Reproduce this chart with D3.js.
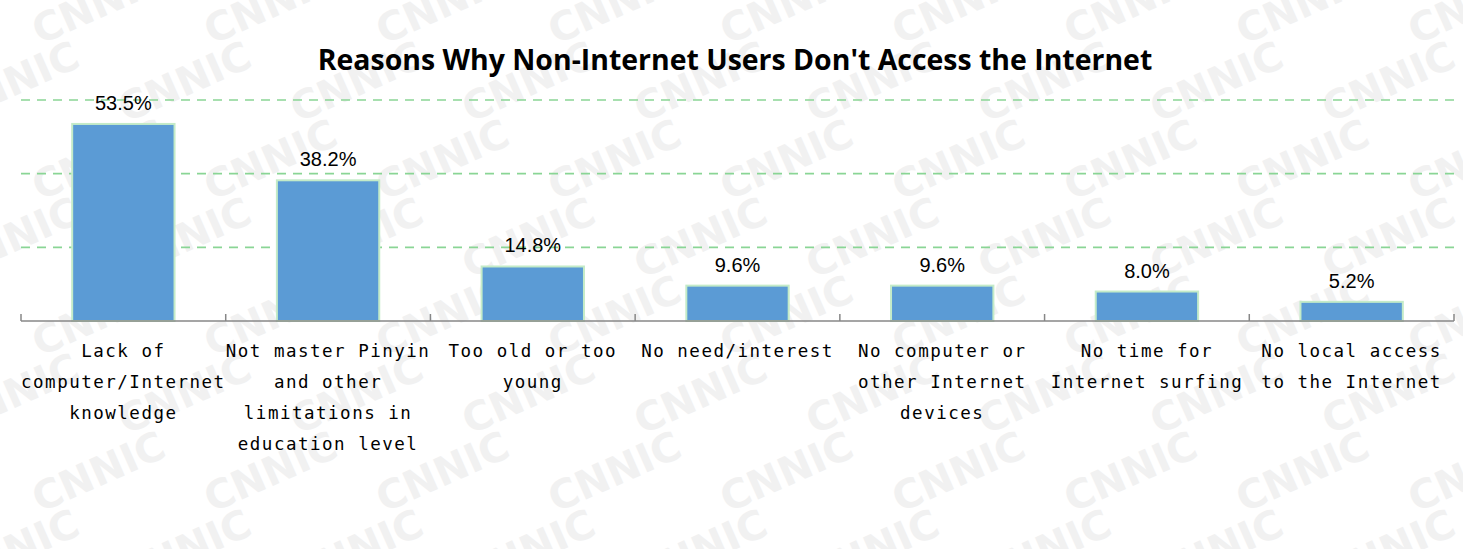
<!DOCTYPE html>
<html>
<head>
<meta charset="utf-8">
<script src="https://cdn.jsdelivr.net/npm/d3@7"></script>
<style>
  html, body { margin: 0; padding: 0; background: #ffffff; }
  svg { display: block; }
</style>
</head>
<body>
<svg id="chart" width="1463" height="549"></svg>
<script>
// Survey data: share of non-Internet users citing each reason (%)
const chartTitle = "Reasons Why Non-Internet Users Don't Access the Internet";
const categories = [
  "Lack of computer/Internet knowledge",
  "Not master Pinyin and other limitations in education level",
  "Too old or too young",
  "No need/interest",
  "No computer or other Internet devices",
  "No time for Internet surfing",
  "No local access to the Internet"
];
const categoryLines = [
  ["Lack of", "computer/Internet", "knowledge"],
  ["Not master Pinyin", "and other", "limitations in", "education level"],
  ["Too old or too", "young"],
  ["No need/interest"],
  ["No computer or", "other Internet", "devices"],
  ["No time for", "Internet surfing"],
  ["No local access", "to the Internet"]
];
const values = [53.5, 38.2, 14.8, 9.6, 9.6, 8.0, 5.2];
const gridTicks = [20, 40, 60];

const W = 1463, H = 549;
const margin = { left: 21, right: 9, top: 100, baseline: 321 };

const svg = d3.select("#chart");

// faint CNNIC watermark tiled across the page
const wm = svg.append("g").attr("class", "watermark");
for (let row = -1; row < 8; row++) {
  for (let col = -1; col < 10; col++) {
    const tx = col * 172 + (row % 2 ? 86 : 0) + 40;
    const ty = row * 78 + 45;
    wm.append("text")
      .attr("transform", `translate(${tx},${ty}) rotate(-24)`)
      .attr("font-family", "DejaVu Sans, sans-serif")
      .attr("font-weight", "bold")
      .attr("font-size", 40)
      .attr("fill", "#f1f1f1")
      .text("CNNIC");
  }
}

const x = d3.scaleBand()
  .domain(categories)
  .range([margin.left, W - margin.right])
  .paddingInner(0.5)
  .paddingOuter(0.25);

const y = d3.scaleLinear()
  .domain([0, 60])
  .range([margin.baseline, margin.top]);

// dashed horizontal gridlines
svg.append("g")
  .selectAll("line")
  .data(gridTicks)
  .join("line")
  .attr("x1", margin.left)
  .attr("x2", W - margin.right)
  .attr("y1", d => y(d))
  .attr("y2", d => y(d))
  .attr("stroke", "#8ad595")
  .attr("stroke-width", 1.6)
  .attr("stroke-dasharray", "9,7");

// bars
svg.append("g")
  .selectAll("rect")
  .data(values)
  .join("rect")
  .attr("x", (d, i) => x(categories[i]))
  .attr("y", d => y(d))
  .attr("width", x.bandwidth())
  .attr("height", d => y(0) - y(d))
  .attr("fill", "#5b9bd5")
  .attr("stroke", "#c4ebc8")
  .attr("stroke-width", 2);

// value labels
svg.append("g")
  .selectAll("text")
  .data(values)
  .join("text")
  .attr("x", (d, i) => x(categories[i]) + x.bandwidth() / 2)
  .attr("y", d => y(d) - 14)
  .attr("text-anchor", "middle")
  .attr("font-family", "Liberation Sans, Arial, sans-serif")
  .attr("font-size", 20)
  .attr("fill", "#000")
  .text(d => d.toFixed(1) + "%");

// category axis: baseline with upward boundary ticks
const step = x.step();
const boundaries = d3.range(categories.length + 1).map(i => margin.left + i * step);
const axis = svg.append("g");
axis.append("line")
  .attr("x1", margin.left).attr("x2", W - margin.right)
  .attr("y1", y(0)).attr("y2", y(0))
  .attr("stroke", "#878787").attr("stroke-width", 1.5);
axis.selectAll("line.tick")
  .data(boundaries)
  .join("line")
  .attr("class", "tick")
  .attr("x1", d => d).attr("x2", d => d)
  .attr("y1", y(0)).attr("y2", y(0) - 7)
  .attr("stroke", "#878787").attr("stroke-width", 1.5);

// category labels, wrapped
const labels = svg.append("g")
  .selectAll("text")
  .data(categoryLines)
  .join("text")
  .attr("text-anchor", "middle")
  .attr("font-family", "DejaVu Sans Mono, Liberation Mono, monospace")
  .attr("font-size", 17.5)
  .attr("letter-spacing", 1.5)
  .attr("fill", "#000");
labels.each(function(lines, i) {
  const cx = x(categories[i]) + x.bandwidth() / 2;
  d3.select(this).selectAll("tspan")
    .data(lines)
    .join("tspan")
    .attr("x", cx)
    .attr("y", (d, j) => 357 + j * 31)
    .text(d => d);
});

// title
const title = svg.append("text")
  .attr("x", 735)
  .attr("y", 70)
  .attr("text-anchor", "middle")
  .attr("font-family", "Open Sans, Noto Sans, sans-serif")
  .attr("font-weight", "bold")
  .attr("font-size", 24)
  .attr("fill", "#000")
  .text(chartTitle);
const tw = title.node().getComputedTextLength();
title.attr("font-size", 24 * 835 / tw);
</script>
</body>
</html>
